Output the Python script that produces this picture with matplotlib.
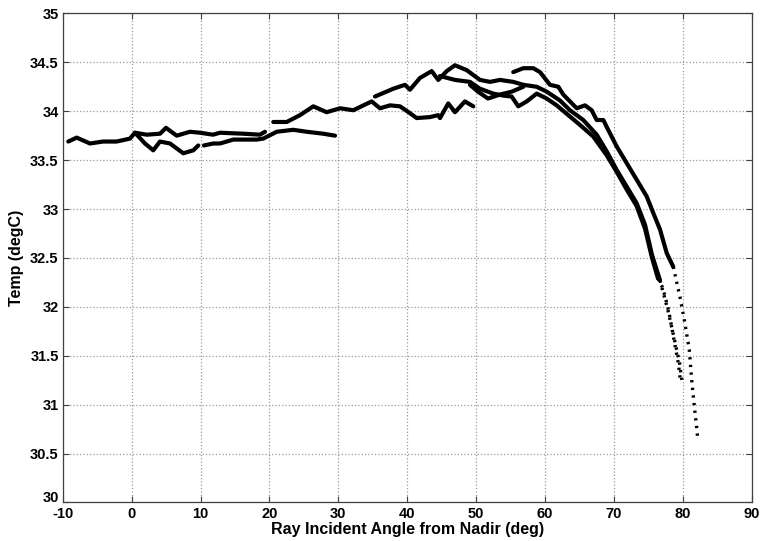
import numpy as np
import matplotlib.pyplot as plt
from matplotlib.transforms import ScaledTranslation

# one list pair per pass
t1_x = [-9.20, -7.98, -6.05, -4.17, -2.18, -0.25, 0.48, 2.18, 4.11, 4.98, 6.53, 8.46, 9.91, 11.80, 12.82, 16.20, 18.62, 19.35]
t1_y = [33.69, 33.73, 33.67, 33.69, 33.69, 33.72, 33.78, 33.76, 33.77, 33.83, 33.75, 33.79, 33.78, 33.76, 33.78, 33.77, 33.76, 33.79]

t2_x = [0.48, 1.93, 3.13, 4.11, 5.56, 7.49, 8.94, 9.67]
t2_y = [33.78, 33.67, 33.60, 33.69, 33.67, 33.57, 33.60, 33.65]

t3_x = [10.49, 11.84, 12.82, 14.75, 18.14, 19.10, 21.05, 23.45, 25.40, 27.81, 29.51]
t3_y = [33.65, 33.67, 33.67, 33.71, 33.71, 33.72, 33.79, 33.81, 33.79, 33.77, 33.75]

t4_x = [20.55, 22.50, 24.43, 26.36, 28.30, 30.23, 32.16, 34.83, 36.04, 37.49, 38.94, 40.39, 41.36, 43.30, 44.50, 44.75, 45.95, 46.92, 48.37, 49.58]
t4_y = [33.89, 33.89, 33.96, 34.05, 33.99, 34.03, 34.01, 34.10, 34.03, 34.06, 34.05, 33.98, 33.93, 33.94, 33.96, 33.93, 34.08, 33.99, 34.10, 34.05]

t5_x = [35.31, 37.97, 39.67, 40.39, 41.84, 43.54, 44.50, 45.72, 46.92, 48.62, 50.55, 52.00, 53.45, 55.38, 56.84, 58.78, 60.23,
        62.16, 63.61, 65.54, 67.49, 68.94, 70.39, 71.84, 73.29, 74.50, 75.52, 76.68, 77.81, 78.79, 79.51, 79.91]
t5_y = [34.15, 34.23, 34.27, 34.22, 34.34, 34.41, 34.32, 34.41, 34.47, 34.42, 34.32, 34.30, 34.32, 34.30, 34.27, 34.25, 34.20,
        34.11, 34.01, 33.91, 33.76, 33.59, 33.40, 33.23, 33.06, 32.84, 32.53, 32.27, 31.97, 31.66, 31.43, 31.22]

t6_x = [44.75, 46.92, 49.10, 50.55, 52.48, 53.93, 55.15, 56.11, 57.33, 58.78, 60.23, 61.68, 63.03, 65.06, 67.00, 68.94,
        70.39, 71.84, 73.29, 74.50, 75.52, 76.39, 77.10, 77.97, 78.79, 79.37, 79.59]
t6_y = [34.36, 34.32, 34.30, 34.23, 34.18, 34.16, 34.15, 34.05, 34.10, 34.18, 34.13, 34.06, 33.98, 33.86, 33.74, 33.55,
        33.38, 33.20, 33.03, 32.80, 32.50, 32.29, 32.19, 31.95, 31.63, 31.41, 31.27]

t7_x = [49.10, 50.26, 51.71, 53.45, 55.15, 56.84]
t7_y = [34.27, 34.20, 34.13, 34.17, 34.20, 34.25]

t8_x = [55.38, 56.84, 58.29, 59.26, 60.71, 61.92, 62.64, 64.59, 65.79, 66.76, 67.49, 68.45, 68.94, 70.39, 71.84, 73.29,
        74.74, 75.70, 76.68, 77.65, 78.60, 79.58, 80.30, 80.93, 81.28, 81.66, 82.00, 82.15]
t8_y = [34.40, 34.44, 34.44, 34.40, 34.27, 34.25, 34.17, 34.03, 34.06, 34.01, 33.91, 33.91, 33.84, 33.64, 33.47, 33.30,
        33.13, 32.96, 32.79, 32.55, 32.41, 32.10, 31.83, 31.56, 31.25, 30.98, 30.77, 30.65]

tracks = [(t1_x, t1_y), (t2_x, t2_y), (t3_x, t3_y), (t4_x, t4_y),
          (t5_x, t5_y), (t6_x, t6_y), (t7_x, t7_y), (t8_x, t8_y)]

plt.rcParams['font.family'] = ['Liberation Sans', 'DejaVu Sans']
plt.rcParams['font.weight'] = 'bold'
plt.rcParams['axes.unicode_minus'] = False

fig = plt.figure(figsize=(7.6, 5.41), dpi=100)
ax = fig.add_axes([0.0826, 0.0713, 0.9066, 0.9039])

for tx, ty in tracks:
    tx = np.array(tx)
    ty = np.array(ty)
    top = ty >= 32.2
    # dense part: thick band of dots
    ax.plot(tx[top], ty[top], color='black', lw=3.0, solid_capstyle='round', solid_joinstyle='round')
    # sparse tail: separate dots
    if (~top).any():
        k = np.argmax(~top) - 1
        ax.plot(tx[k:], ty[k:], color='black', lw=2.4, linestyle=(0, (0.7, 1.6)))

ax.set_xlim(-10, 90)
ax.set_ylim(30, 35)
ax.set_xticks(np.arange(-10, 91, 10))
ax.set_yticks(np.arange(30, 35.01, 0.5))
ax.set_yticklabels(['30', '30.5', '31', '31.5', '32', '32.5', '33', '33.5', '34', '34.5', '35'])
ax.grid(True, linestyle=':', color='#9a9a9a', lw=0.9)
ax.tick_params(direction='in', length=4, top=True, right=True, labelsize=10.5, pad=3, color='#404040')
for s in ax.spines.values():
    s.set_color('#404040')
    s.set_linewidth(0.9)

# MATLAB-like: the bottom y label sits a bit above the corner
lab = ax.get_yticklabels()[0]
lab.set_transform(lab.get_transform() + ScaledTranslation(0, 6 / 100, fig.dpi_scale_trans))

ax.set_xlabel('Ray Incident Angle from Nadir (deg)', fontsize=11.5, fontweight='bold', labelpad=1)
ax.set_ylabel('Temp (degC)', fontsize=11.5, fontweight='bold', labelpad=4)

fig.savefig('out.png', dpi=100)
